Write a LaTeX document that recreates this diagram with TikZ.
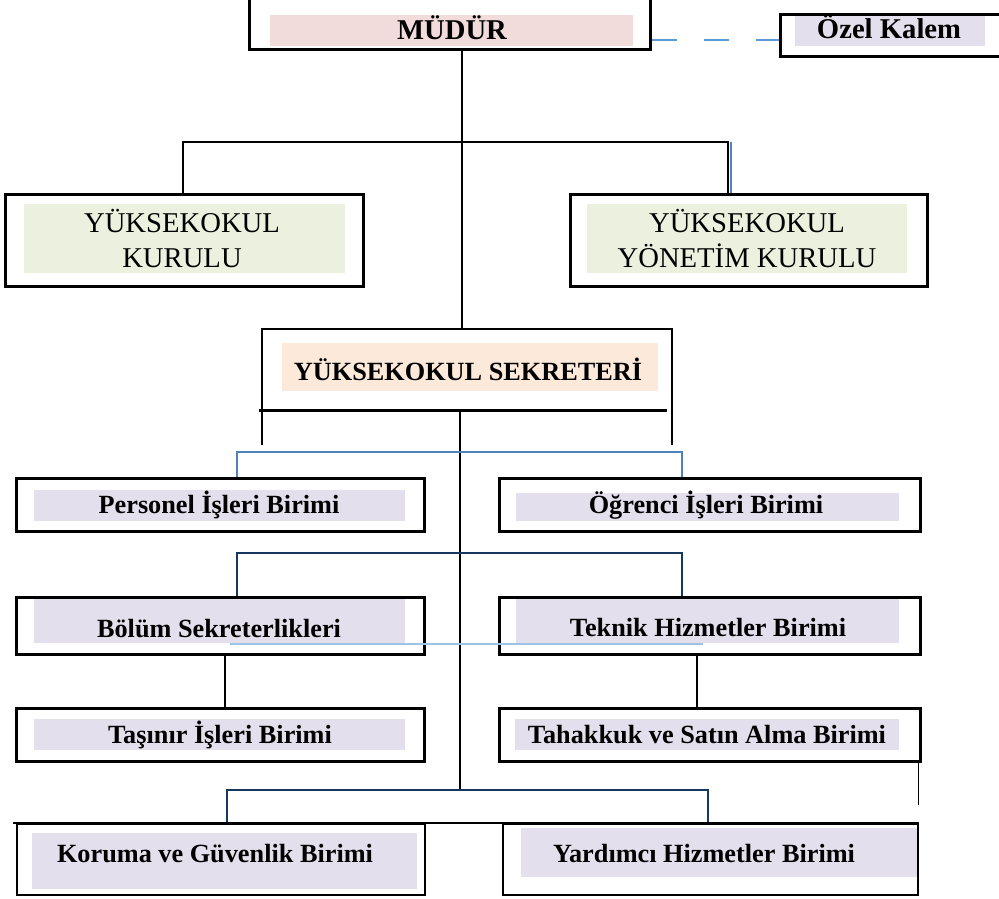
\documentclass[tikz,border=0pt]{standalone}
\usepackage{fontspec}
\setmainfont{Liberation Serif}
\usetikzlibrary{fit}
\definecolor{pinkfill}{HTML}{F2DCDB}
\definecolor{lilacfill}{HTML}{E4DFEC}
\definecolor{greenfill}{HTML}{EBF1DE}
\definecolor{peachfill}{HTML}{FDE9D9}
\definecolor{lineblue}{HTML}{4F81BD}
\definecolor{navyline}{HTML}{17375E}
\definecolor{dashblue}{HTML}{5B9BD5}
\definecolor{paleblue}{HTML}{9DC3E6}

\begin{document}
\begin{tikzpicture}[
    x=0.75pt, y=-0.75pt,
    frame/.style={draw, line width=2.25pt, inner sep=0pt},
    thinframe/.style={draw, line width=1.5pt, inner sep=0pt},
    bigtext/.style={font=\fontsize{21.5}{26}\selectfont\bfseries, anchor=base, inner sep=0pt},
    boardtext/.style={font=\fontsize{21.5}{26.25}\selectfont, align=center, anchor=base, inner sep=0pt},
    unittext/.style={font=\fontsize{19.7}{24}\selectfont\bfseries, anchor=base, inner sep=0pt},
    conn/.style={line width=1.2pt},
    blueconn/.style={line width=1.5pt, draw=lineblue},
    navyconn/.style={line width=1.5pt, draw=navyline},
    paleconn/.style={line width=1pt, draw=paleblue},
    dashconn/.style={line width=2pt, draw=dashblue, dash pattern=on 18.75pt off 20.6pt}
  ]
    \useasboundingbox (0,0) rectangle (999,899);

    % coloured panels
    \fill[pinkfill] (270,15) rectangle (633,46);
    \fill[lilacfill] (795,15) rectangle (985,46);
    \fill[greenfill] (24,204) rectangle (345,273);
    \fill[greenfill] (587,204) rectangle (907,273);
    \fill[peachfill] (282,343) rectangle (658,391);
    \fill[lilacfill] (34,490) rectangle (405,521);
    \fill[lilacfill] (516,493) rectangle (899,521);
    \fill[lilacfill] (34,599) rectangle (405,643);
    \fill[lilacfill] (516,599) rectangle (899,643);
    \fill[lilacfill] (34,719) rectangle (405,750);
    \fill[lilacfill] (515,719) rectangle (899,750);
    \fill[lilacfill] (32,833) rectangle (417,889);
    \fill[lilacfill] (521,828) rectangle (917,877);

    % frames
    \node[frame, fit={(249,-10) (650,50)}] (mudurF) {};
    \node[frame, fit={(780,15) (1010,57)}] (ozelF) {};
    \node[frame, fit={(5,194) (363,286)}] (kurulF) {};
    \node[frame, fit={(570,194) (927,286)}] (yonetimF) {};
    \node[inner sep=0pt, fit={(262,329) (672,410)}] (sekreterF) {};
    \node[frame, fit={(16,478) (424,531)}] (personelF) {};
    \node[frame, fit={(499,478) (920,531)}] (ogrenciF) {};
    \node[frame, fit={(16,597) (424,654)}] (bolumF) {};
    \node[frame, fit={(499,597) (920,654)}] (teknikF) {};
    \node[frame, fit={(16,708) (424,761)}] (tasinirF) {};
    \node[frame, fit={(499,708) (920,761)}] (tahakkukF) {};
    \node[thinframe, fit={(17,824) (425,895)}] (korumaF) {};
    \node[thinframe, fit={(503,824) (918,895)}] (yardimciF) {};

    % texts
    \node[bigtext] (mudur) at (452,40) {MÜDÜR};
    \node[bigtext] (ozel) at (889,39) {Özel Kalem};
    \node[boardtext] (kurul) at (182,267) {YÜKSEKOKUL\\KURULU};
    \node[boardtext] (yonetim) at (747,267) {YÜKSEKOKUL\\YÖNETİM KURULU};
    \node[unittext] (sekreter) at (468,380) {YÜKSEKOKUL SEKRETERİ};
    \node[unittext] (personel) at (219,513) {Personel İşleri Birimi};
    \node[unittext] (ogrenci) at (706,513) {Öğrenci İşleri Birimi};
    \node[unittext] (bolum) at (219,637) {Bölüm Sekreterlikleri};
    \node[unittext] (teknik) at (708,636) {Teknik Hizmetler Birimi};
    \node[unittext] (tasinir) at (220,743) {Taşınır İşleri Birimi};
    \node[unittext] (tahakkuk) at (707,743) {Tahakkuk ve Satın Alma Birimi};
    \node[unittext] (koruma) at (215,862) {Koruma ve Güvenlik Birimi};
    \node[unittext] (yardimci) at (704,862) {Yardımcı Hizmetler Birimi};

    % junctions
    \coordinate (hubA) at (183,142);
    \coordinate (hubB) at (728,142);
    \coordinate (spine) at (460,410);
    \coordinate (spineEnd) at (460,790);
    \coordinate (b1L) at (237,452);
    \coordinate (b1R) at (682,452);
    \coordinate (b2L) at (237,553);
    \coordinate (b2R) at (682,553);
    \coordinate (b3L) at (227,790);
    \coordinate (b3R) at (708,790);
    \coordinate (cross1) at (230,644);
    \coordinate (cross2) at (703,644);
    \coordinate (v1) at (225,0);
    \coordinate (v2) at (697,0);
    \coordinate (dash) at (0,40);
    \coordinate (top) at (462,0);

    % secretary frame
    \draw[conn] (sekreterF.south west) ++(0,35) -- (sekreterF.north west) -- (sekreterF.north east) -- ++(0,116);
    \draw[line width=2.25pt] (259,410) -- (667,410);

    % connectors
    \draw[dashconn] (mudurF.east |- dash) -- (ozelF.west |- dash);
    \draw[conn] (mudurF.south -| top) -- (sekreterF.north -| top);
    \draw[conn] (kurulF.north -| hubA) -- (hubA) -- (hubB) -- (yonetimF.north -| hubB);
    \draw[blueconn] ([xshift=2.25pt]hubB) -- ([xshift=2.25pt]yonetimF.north -| hubB);
    \draw[conn] (spine) -- (spineEnd);
    \draw[blueconn] (personelF.north -| b1L) -- (b1L) -- (b1R) -- (ogrenciF.north -| b1R);
    \draw[navyconn] (bolumF.north -| b2L) -- (b2L) -- (b2R) -- (teknikF.north -| b2R);
    \draw[paleconn] (cross1) -- (cross2);
    \draw[conn] (bolumF.south -| v1) -- (tasinirF.north -| v1);
    \draw[conn] (teknikF.south -| v2) -- (tahakkukF.north -| v2);
    \draw[conn] ([xshift=-2.25pt]tahakkukF.south east) -- ++(0,42);
    \draw[navyconn] (korumaF.north -| b3L) -- (b3L) -- (b3R) -- (yardimciF.north -| b3R);
    \draw[line width=1.8pt] ([xshift=-2.25pt]korumaF.north west) -- (yardimciF.north east);
  \end{tikzpicture}
\end{document}
